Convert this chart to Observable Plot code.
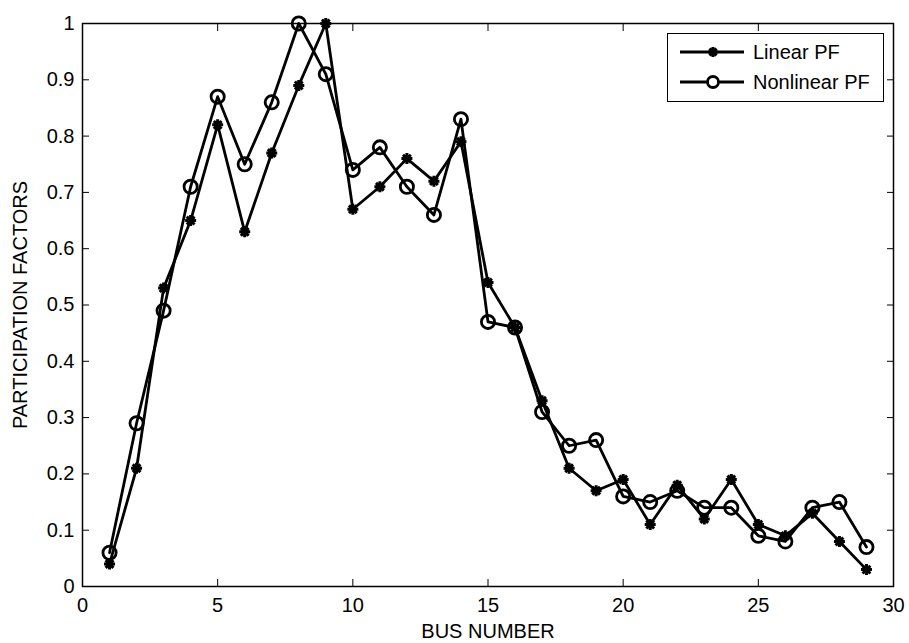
<!DOCTYPE html>
<html>
<head>
<meta charset="utf-8">
<script src="https://cdn.jsdelivr.net/npm/d3@7"></script>
<script src="https://cdn.jsdelivr.net/npm/@observablehq/plot@0.6"></script>
<style>
  html, body { margin: 0; padding: 0; background: #fff; }
  #wrap { position: relative; width: 909px; height: 643px; font-family: "Liberation Sans", Arial, sans-serif; }
  #legend { position: absolute; left: 667px; top: 33px; }
</style>
</head>
<body>
<div id="wrap"><div id="chart"></div><div id="legend"></div></div>
<script>
// ---- data ----
const busNumbers = [1,2,3,4,5,6,7,8,9,10,11,12,13,14,15,16,17,18,19,20,21,22,23,24,25,26,27,28,29];
const linearPF = [0.04,0.21,0.53,0.65,0.82,0.63,0.77,0.89,1.00,0.67,0.71,0.76,0.72,0.79,0.54,0.46,0.33,0.21,0.17,0.19,0.11,0.18,0.12,0.19,0.11,0.09,0.13,0.08,0.03];
const nonlinearPF = [0.06,0.29,0.49,0.71,0.87,0.75,0.86,1.00,0.91,0.74,0.78,0.71,0.66,0.83,0.47,0.46,0.31,0.25,0.26,0.16,0.15,0.17,0.14,0.14,0.09,0.08,0.14,0.15,0.07];
const seriesNames = ["Linear PF", "Nonlinear PF"];
const xTicks = [0,5,10,15,20,25,30];
const xTickLabels = ["0","5","10","15","20","25","30"];
const yTicks = [0,0.1,0.2,0.3,0.4,0.5,0.6,0.7,0.8,0.9,1];
const yTickLabels = ["0","0.1","0.2","0.3","0.4","0.5","0.6","0.7","0.8","0.9","1"];
const xLabel = "BUS NUMBER";
const yLabel = "PARTICIPATION FACTORS";

const linearData = busNumbers.map((b, i) => ({bus: b, value: linearPF[i]}));
const nonlinearData = busNumbers.map((b, i) => ({bus: b, value: nonlinearPF[i]}));

// MATLAB-like '*' marker (8 arms)
const starSymbol = {
  draw(ctx, size) {
    const r = Math.sqrt(size / Math.PI);
    const d = r * Math.SQRT1_2;
    ctx.moveTo(-r, 0); ctx.lineTo(r, 0);
    ctx.moveTo(0, -r); ctx.lineTo(0, r);
    ctx.moveTo(-d, -d); ctx.lineTo(d, d);
    ctx.moveTo(-d, d); ctx.lineTo(d, -d);
  }
};

const fmtX = d => xTickLabels[xTicks.indexOf(d)];
const fmtY = d => yTickLabels[yTicks.indexOf(d)];

const chart = Plot.plot({
  width: 909,
  height: 643,
  marginLeft: 82,
  marginRight: 16,
  marginTop: 23,
  marginBottom: 57,
  style: {fontFamily: "'Liberation Sans', Arial, sans-serif", fontSize: "20px", color: "#000", background: "#fff"},
  x: {domain: [0, 30]},
  y: {domain: [0, 1]},
  marks: [
    Plot.axisX({anchor: "bottom", ticks: xTicks, tickFormat: fmtX, tickSize: -7, tickPadding: 18, label: null, fontSize: 20}),
    Plot.axisX({anchor: "top", ticks: xTicks, tickFormat: () => "", tickSize: -7, label: null}),
    Plot.axisY({anchor: "left", ticks: yTicks, tickFormat: fmtY, tickSize: -7, tickPadding: 15, label: null, fontSize: 20}),
    Plot.axisY({anchor: "right", ticks: yTicks, tickFormat: () => "", tickSize: -7, label: null}),
    Plot.frame({stroke: "#000", strokeWidth: 1.5}),
    Plot.line(linearData, {x: "bus", y: "value", stroke: "#000", strokeWidth: 2.8}),
    Plot.line(nonlinearData, {x: "bus", y: "value", stroke: "#000", strokeWidth: 2.8}),
    Plot.dot(linearData, {x: "bus", y: "value", symbol: starSymbol, r: 5.5, stroke: "#000", fill: "none", strokeWidth: 3}),
    Plot.dot(nonlinearData, {x: "bus", y: "value", r: 6.6, stroke: "#000", fill: "none", strokeWidth: 2.8}),
    Plot.text([xLabel], {text: d => d, frameAnchor: "bottom", dy: 45, fontSize: 20, lineAnchor: "middle", textAnchor: "middle"}),
    Plot.text([yLabel], {text: d => d, frameAnchor: "left", dx: -61.5, rotate: -90, fontSize: 20, lineAnchor: "middle", textAnchor: "middle"})
  ]
});
document.getElementById("chart").appendChild(chart);

// ---- legend ----
const lw = 217, lh = 69;
const lsvg = d3.select("#legend").append("svg")
  .attr("width", lw).attr("height", lh)
  .style("font-family", "'Liberation Sans', Arial, sans-serif")
  .style("font-size", "20px");
lsvg.append("rect").attr("x", 0.5).attr("y", 0.5).attr("width", lw - 1).attr("height", lh - 1)
  .attr("fill", "#fff").attr("stroke", "#000").attr("stroke-width", 1);
const rowsY = [19, 49];
seriesNames.forEach((name, i) => {
  const g = lsvg.append("g").attr("transform", `translate(0,${rowsY[i]})`);
  g.append("line").attr("x1", 13).attr("x2", 77).attr("y1", 0).attr("y2", 0)
    .attr("stroke", "#000").attr("stroke-width", 2.8);
  if (i === 0) {
    g.append("path").attr("transform", "translate(46,0)")
      .attr("d", d3.symbol(starSymbol, 25 * Math.PI)())
      .attr("stroke", "#000").attr("stroke-width", 3).attr("fill", "none");
  } else {
    g.append("circle").attr("cx", 46).attr("cy", 0).attr("r", 5.5)
      .attr("stroke", "#000").attr("stroke-width", 2.8).attr("fill", "#fff");
  }
  g.append("text").attr("x", 86).attr("y", 0).attr("dy", "0.35em").text(name);
});
</script>
</body>
</html>
